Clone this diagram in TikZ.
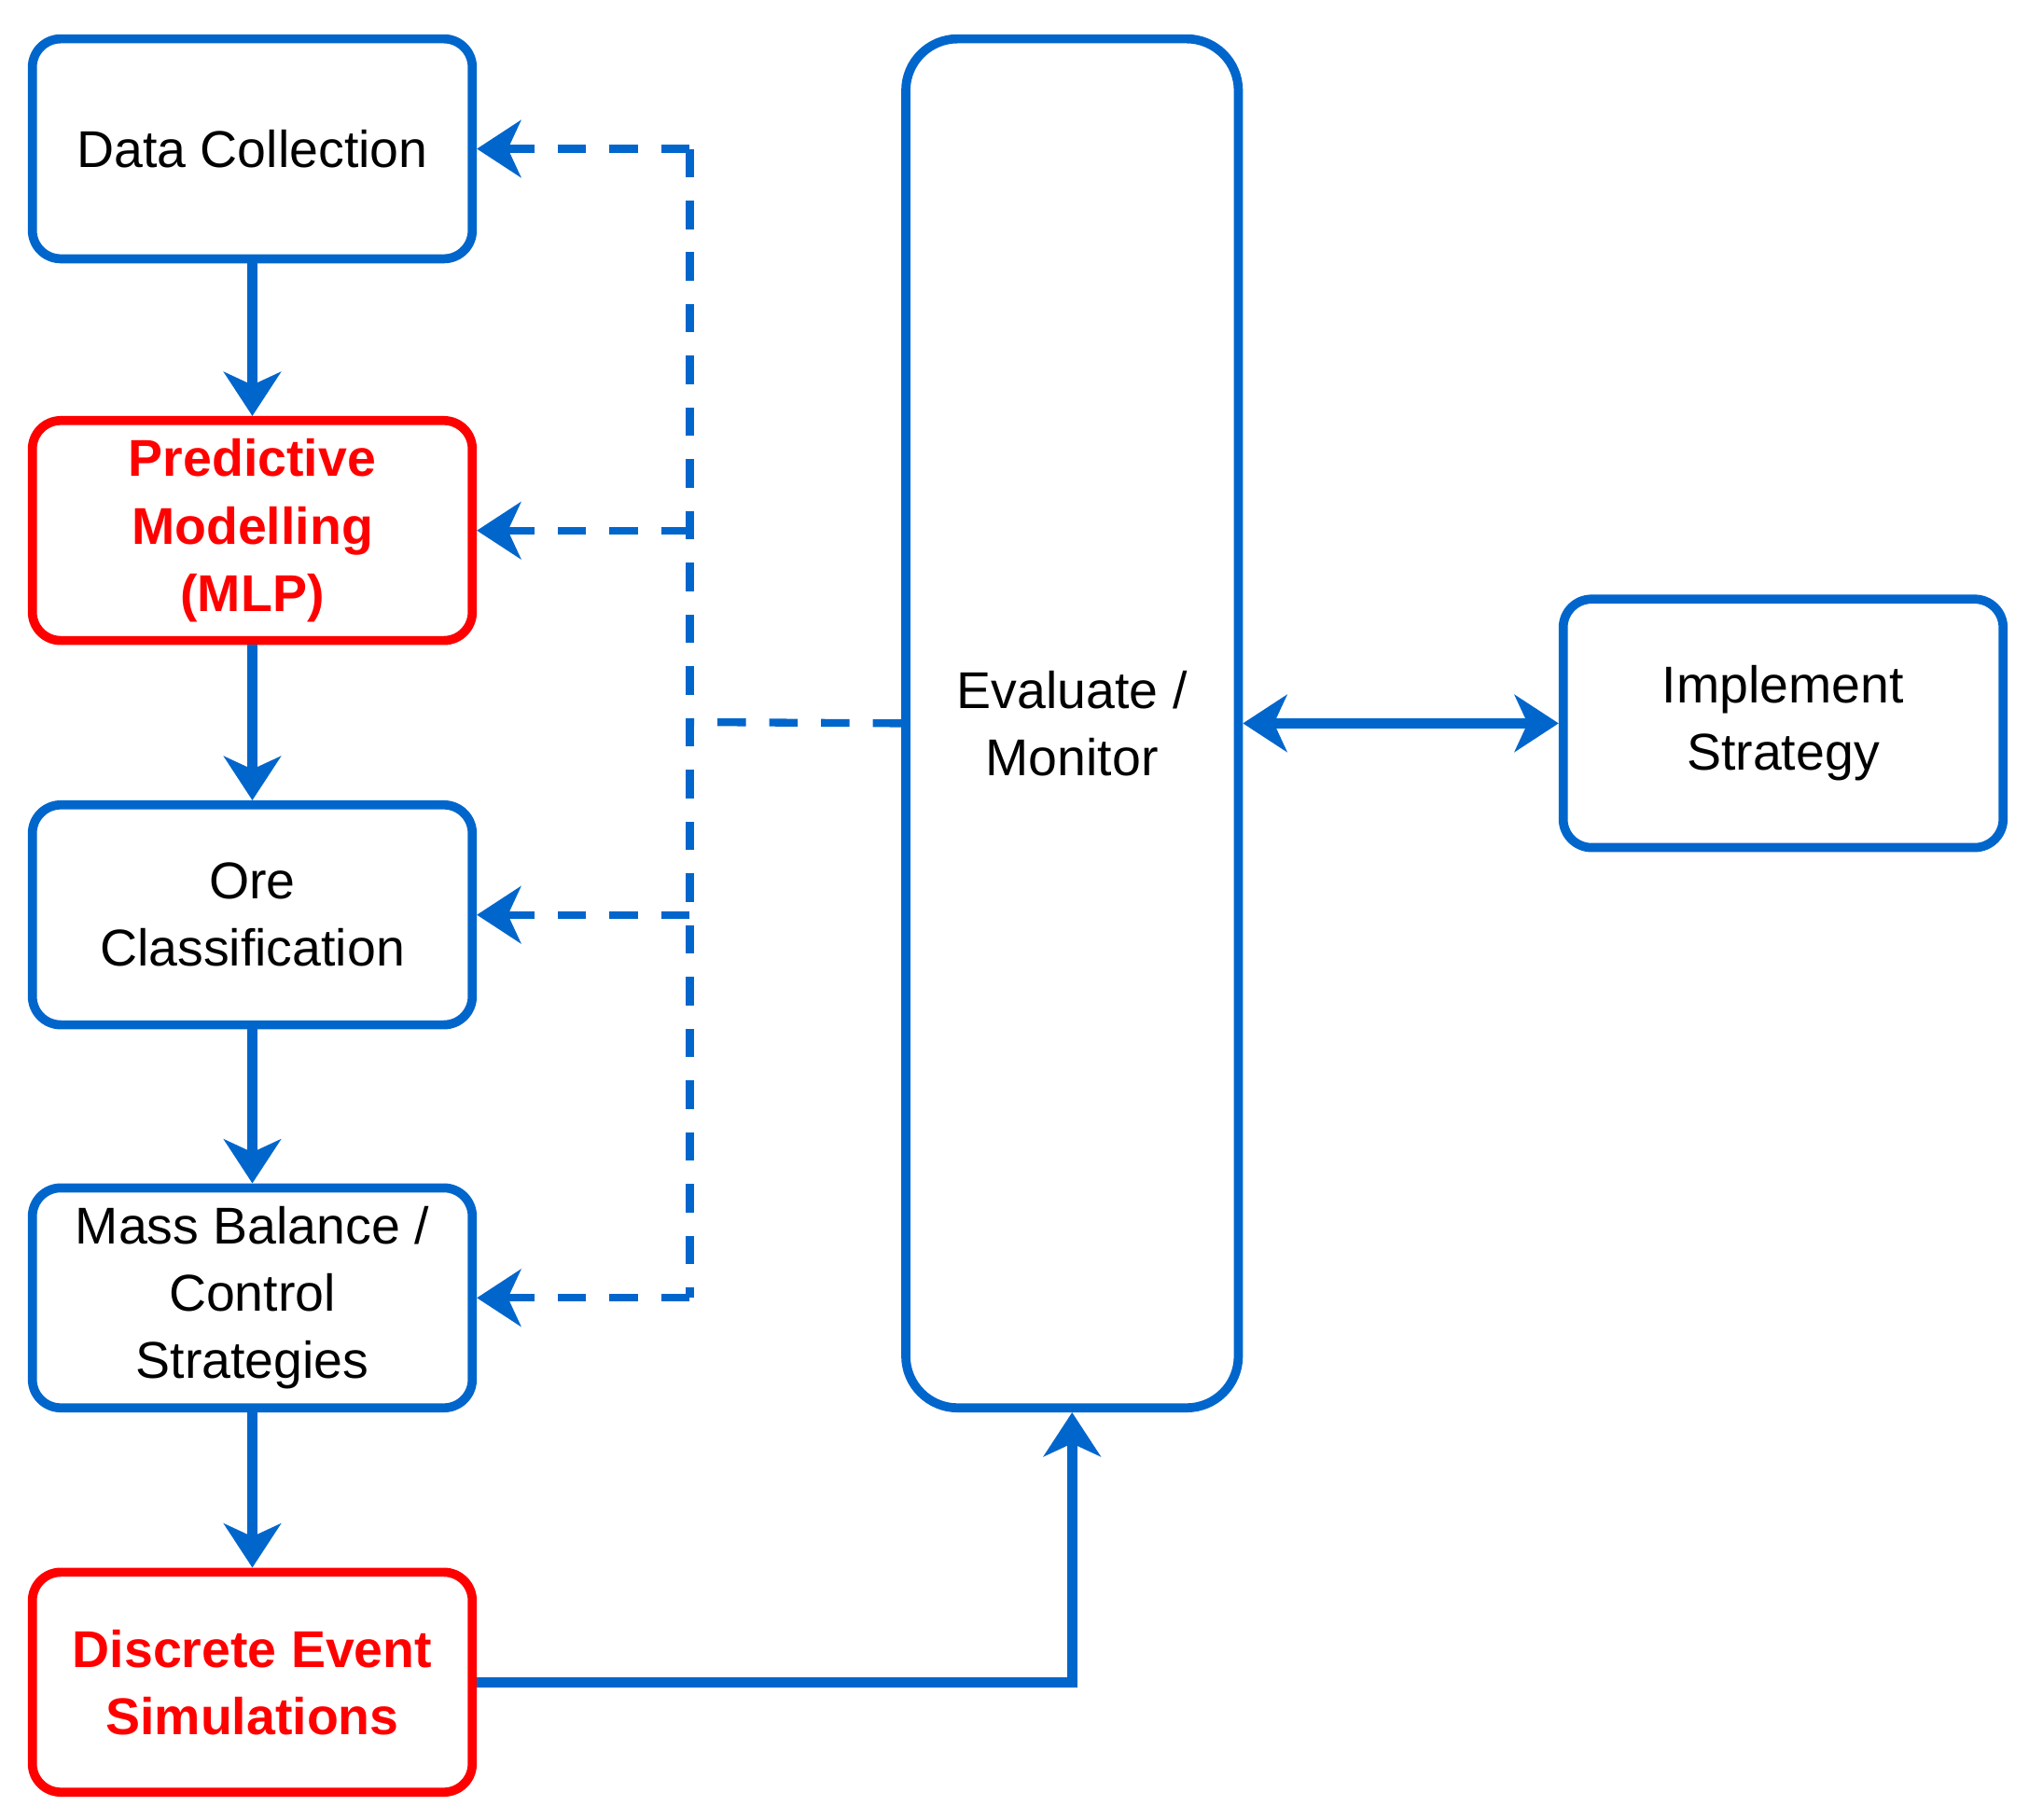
\documentclass[tikz,border=0pt]{standalone}
\usepackage{fontspec}
\setmainfont{Liberation Sans}
\usetikzlibrary{arrows.meta}
\definecolor{bl}{RGB}{0,102,204}
\definecolor{rd}{RGB}{255,0,0}
\begin{document}
\begin{tikzpicture}[x=1pt,y=-1pt,
  box/.style={draw=bl,line width=7pt,rounded corners=22pt,minimum width=340pt,minimum height=170pt,align=center,font=\fontsize{40}{52}\selectfont,inner sep=0pt},
  rbox/.style={box,draw=rd,text=rd,font=\fontsize{40}{52}\selectfont\bfseries},
  tip/.style={-{Stealth[length=34pt,width=44pt,inset=10pt]}},
  ln/.style={bl,line width=8pt},
  dl/.style={ln,line width=6pt,dash pattern=on 22pt off 18pt}]
\useasboundingbox (0,0) rectangle (1568,1406);
\node[box] (dc) at (195,115) {Data Collection};
\node[rbox] (pm) at (195,410) {Predictive\\Modelling\\(MLP)};
\node[box] (oc) at (195,707) {Ore\\Classification};
\node[box] (mb) at (195,1003) {Mass Balance /\\Control\\Strategies};
\node[rbox] (de) at (195,1300) {Discrete Event\\Simulations};
\node[box,minimum width=257pt,minimum height=1058pt,rounded corners=40pt] (ev) at (828.5,559) {Evaluate /\\Monitor};
\node[box,minimum width=340pt,minimum height=192pt] (im) at (1378,559) {Implement\\Strategy};
\coordinate (j) at (533,558);
\draw[ln,tip] (dc) -- (pm);
\draw[ln,tip] (pm) -- (oc);
\draw[ln,tip] (oc) -- (mb);
\draw[ln,tip] (mb) -- (de);
\draw[ln,tip] (de.east) -| (ev.south);
\draw[ln,{Stealth[length=34pt,width=44pt,inset=10pt]}-{Stealth[length=34pt,width=44pt,inset=10pt]}] (ev.east) -- (im.west);
\draw[dl] (ev.west) -- (j);
\draw[dl] (533,115) -- (533,1003);
\draw[dl,tip] (533,115) -- (dc.east);
\draw[dl,tip] (533,410) -- (pm.east);
\draw[dl,tip] (533,707) -- (oc.east);
\draw[dl,tip] (533,1003) -- (mb.east);
\end{tikzpicture}
\end{document}
